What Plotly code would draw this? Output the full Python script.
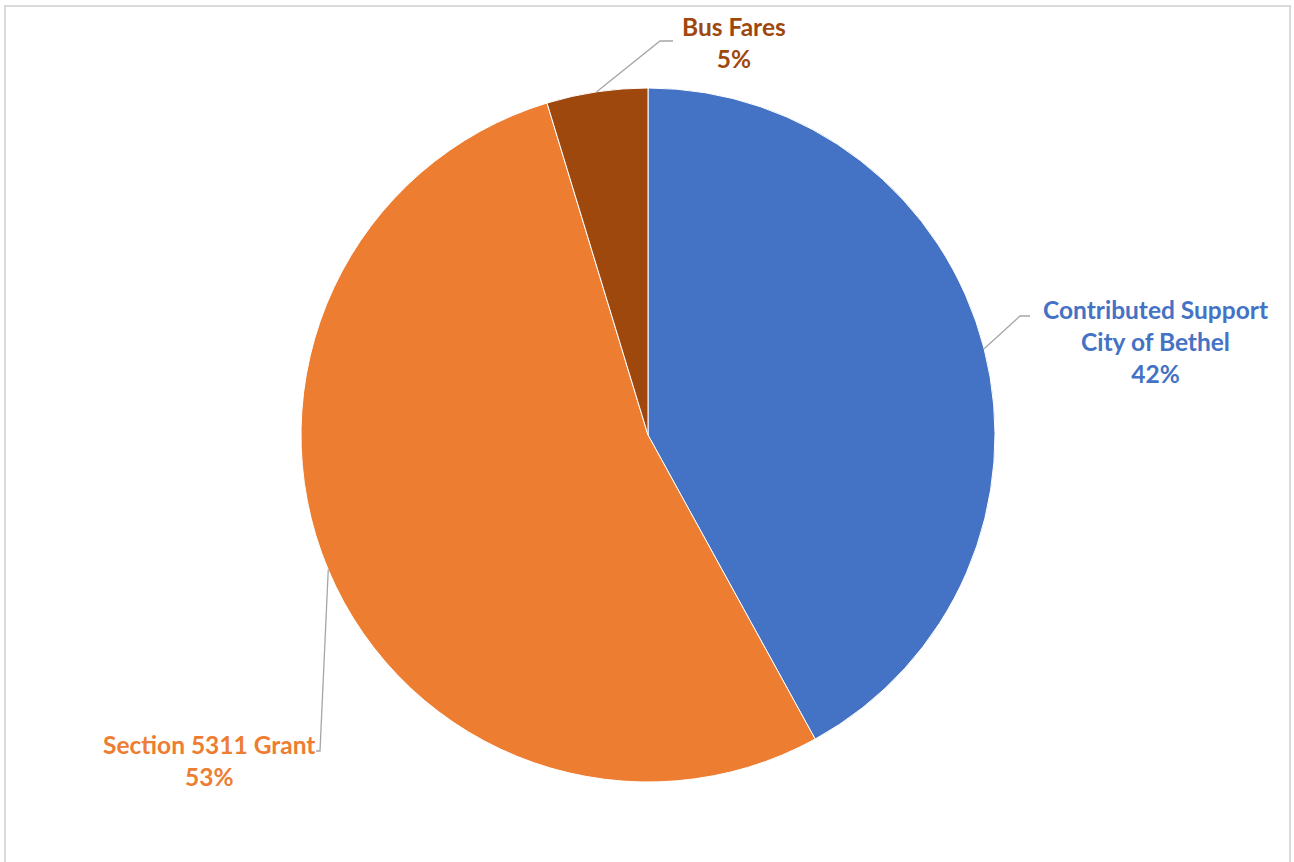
import math
import plotly.graph_objects as go

# ---- data ----
categories = ["Contributed Support<br>City of Bethel", "Section 5311 Grant", "Bus Fares"]
values = [42.0, 53.3, 4.7]
pct_labels = ["42%", "53%", "5%"]
colors = ["#4472C4", "#ED7D31", "#9E480E"]

W, H = 1294, 862
cx, cy, r = 648, 435, 347

def px(x):
    return x / W

def py(y):
    return 1 - y / H

fig = go.Figure(go.Pie(
    labels=categories,
    values=values,
    sort=False,
    direction="clockwise",
    rotation=0,
    marker=dict(colors=colors, line=dict(color="white", width=1)),
    textinfo="none",
    hoverinfo="label+percent",
    showlegend=False,
    domain=dict(x=[px(cx - r), px(cx + r)], y=[py(cy + r), py(cy - r)]),
))

# mid angles of slices (clockwise from 12 o'clock)
total = sum(values)
mids = []
acc = 0
for v in values:
    mids.append((acc + v / 2) / total * 360)
    acc += v

def edge(angle_deg):
    a = math.radians(angle_deg)
    return cx + r * math.sin(a), cy - r * math.cos(a)

line_style = dict(color="#A6A6A6", width=1.3)
font_family = "Lato, 'Open Sans', sans-serif"

# label placements (pixel positions of label centers and leader elbows)
label_specs = [
    (0, 1155, 341, [(1020, 316), (1030, 316)], mids[0]),
    (1, 209, 760, [(320, 751), (316, 751)], mids[1]),
    (2, 734, 43, [(660, 41), (673, 41)], 351.5),
]

shapes = []
annotations = []
for idx, lx, ly, elbow, ang in label_specs:
    sx, sy = edge(ang)
    pts = [(sx, sy)] + elbow
    path = "M " + " L ".join(f"{px(x)},{py(y)}" for x, y in pts)
    shapes.append(dict(type="path", xref="paper", yref="paper", path=path,
                       line=line_style))
    annotations.append(dict(
        x=px(lx), y=py(ly), xref="paper", yref="paper",
        text=f"<b>{categories[idx]}<br>{pct_labels[idx]}</b>",
        showarrow=False, align="center", xanchor="center", yanchor="middle",
        font=dict(family=font_family, size=24.5, color=colors[idx]),
    ))

# chart border
shapes.append(dict(type="rect", xref="paper", yref="paper",
                   x0=px(5), x1=px(1290), y0=py(880), y1=py(6),
                   line=dict(color="#D9D9D9", width=2), layer="below"))

fig.update_layout(
    width=W, height=H,
    margin=dict(l=0, r=0, t=0, b=0),
    paper_bgcolor="white",
    plot_bgcolor="white",
    shapes=shapes,
    annotations=annotations,
)

fig.write_html("out.html")
